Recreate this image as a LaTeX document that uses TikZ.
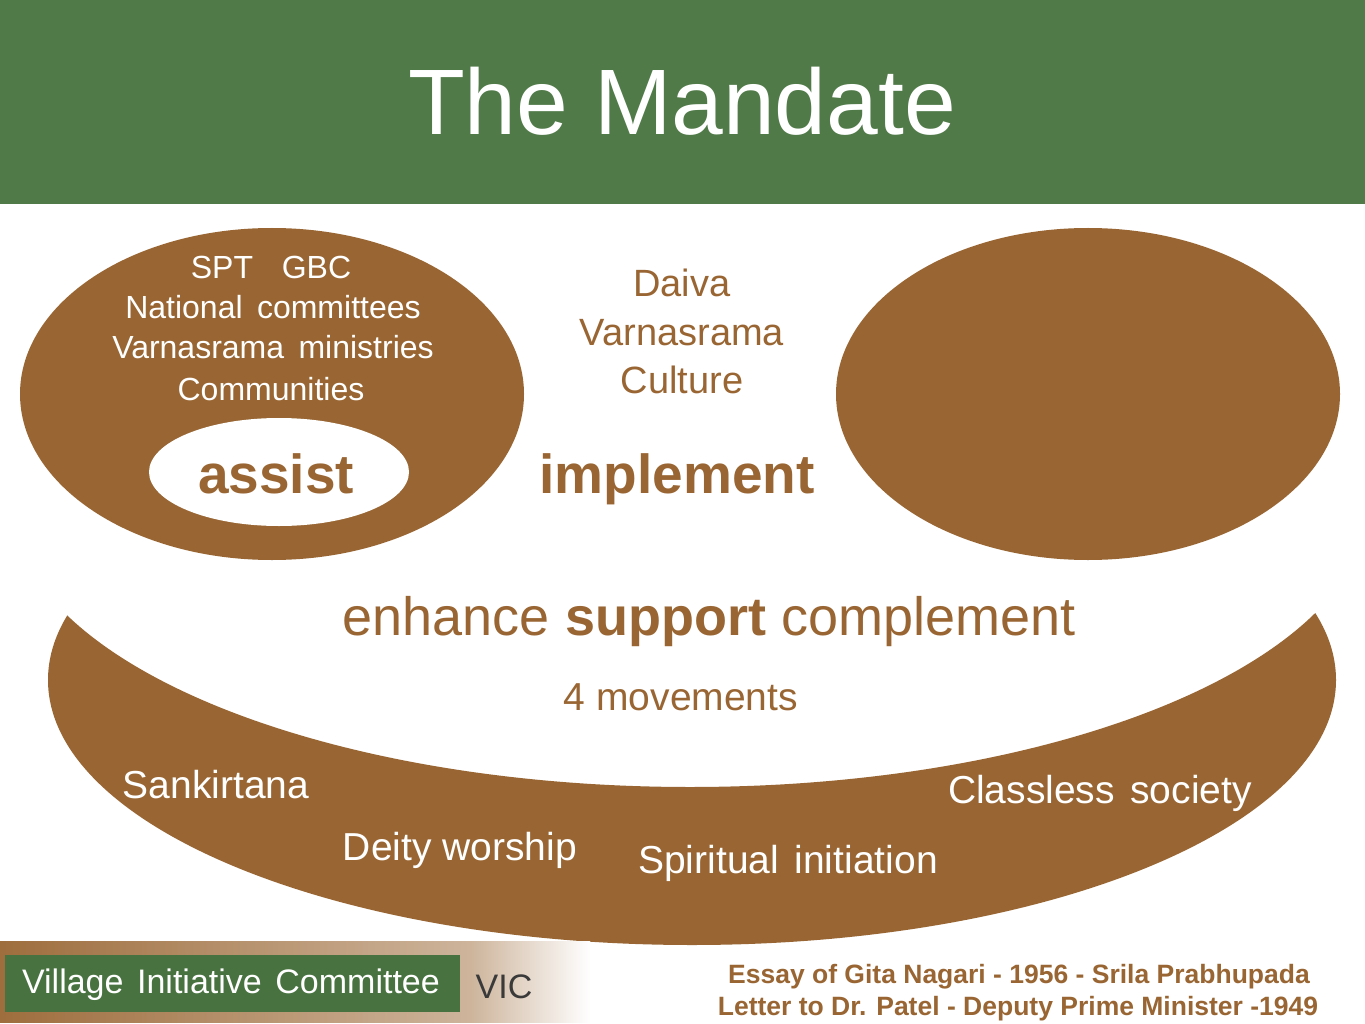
\documentclass[tikz,border=0pt]{standalone}
\usepackage{fontspec}
\setmainfont{Liberation Sans}
\definecolor{mbrown}{RGB}{153,102,51}
\definecolor{mgreen}{RGB}{80,122,72}
\definecolor{fgreen}{RGB}{72,114,64}
\definecolor{mtan}{RGB}{205,180,155}
\definecolor{vicgray}{RGB}{58,58,58}
\newcommand\fsz[1]{\fontsize{#1}{#1}\selectfont}
\begin{document}
\begin{tikzpicture}[x=1pt,y=-1pt,
  txt/.style={inner sep=0pt, anchor=base},
  wtxt/.style={txt, text=white},
  btxt/.style={txt, text=mbrown}]
\useasboundingbox (0,0) rectangle (1365,1024);
\fill[white] (0,0) rectangle (1365,1024);
% title band
\fill[mgreen] (0,0) rectangle (1365,204);
\node[wtxt] (title) at (682,135) {\fsz{93}The Mandate};
% smile shape: outer ellipse minus inner ellipse
\begin{scope}
  \clip (692,680) ellipse [x radius=644pt, y radius=265pt];
  \fill[mbrown, even odd rule] (-10,400) rectangle (1375,960)
        (690,500) ellipse [x radius=680pt, y radius=287pt];
\end{scope}
% top ellipses
\fill[mbrown] (272,394) ellipse [x radius=252pt, y radius=166pt];
\fill[mbrown] (1088,394) ellipse [x radius=252pt, y radius=166pt];
\fill[white] (279,472) ellipse [x radius=130pt, y radius=54pt];
% left ellipse texts
\node[wtxt] (spt) at (271,279) {\fsz{32}SPT\hspace{0.9em}GBC};
\node[wtxt] (nat) at (273,318) {\fsz{32}National\hspace{0.45em}committees};
\node[wtxt] (var) at (273,358) {\fsz{32}Varnasrama\hspace{0.45em}ministries};
\node[wtxt] (com) at (271,400) {\fsz{32}Communities};
\node[btxt] (assist) at (276,493) {\fsz{55}\bfseries assist};
% centre texts
\node[btxt] (daiva) at (682,297) {\fsz{38}Daiva};
\node[btxt] (varn) at (682,345) {\fsz{38}Varnasrama};
\node[btxt] (cult) at (682,393) {\fsz{38}Culture};
\node[btxt] (impl) at (677,493) {\fsz{55}\bfseries implement};
\node[btxt] (enh) at (709,635) {\fsz{54}enhance \textbf{support} complement};
\node[btxt] (mov) at (681,710) {\fsz{39}4 movements};
% smile texts
\node[wtxt] (sank) at (216,798) {\fsz{39}Sankirtana};
\node[wtxt] (deity) at (460,860) {\fsz{39}Deity worship};
\node[wtxt] (spir) at (788,873) {\fsz{39}Spiritual\hspace{0.4em}initiation};
\node[wtxt] (class) at (1100,803) {\fsz{39}Classless\hspace{0.4em}society};
% footer
\shade[left color=mbrown!95!white, right color=mtan] (0,941) rectangle (470,1022);
\shade[left color=mtan, right color=white] (470,941) rectangle (590,1022);
\fill[fgreen] (5,955) rectangle (460,1012);
\node[wtxt] (vil) at (231,993) {\fsz{34}Village\hspace{0.4em}Initiative\hspace{0.4em}Committee};
\node[txt, text=vicgray] (vic) at (504,998) {\fsz{34}VIC};
\node[btxt] (essay) at (1019,983) {\fsz{26.5}\bfseries Essay of Gita Nagari - 1956 - Srila Prabhupada};
\node[btxt] (letter) at (1018,1015) {\fsz{26.5}\bfseries Letter to Dr. Patel - Deputy Prime Minister -1949};
\end{tikzpicture}
\end{document}
